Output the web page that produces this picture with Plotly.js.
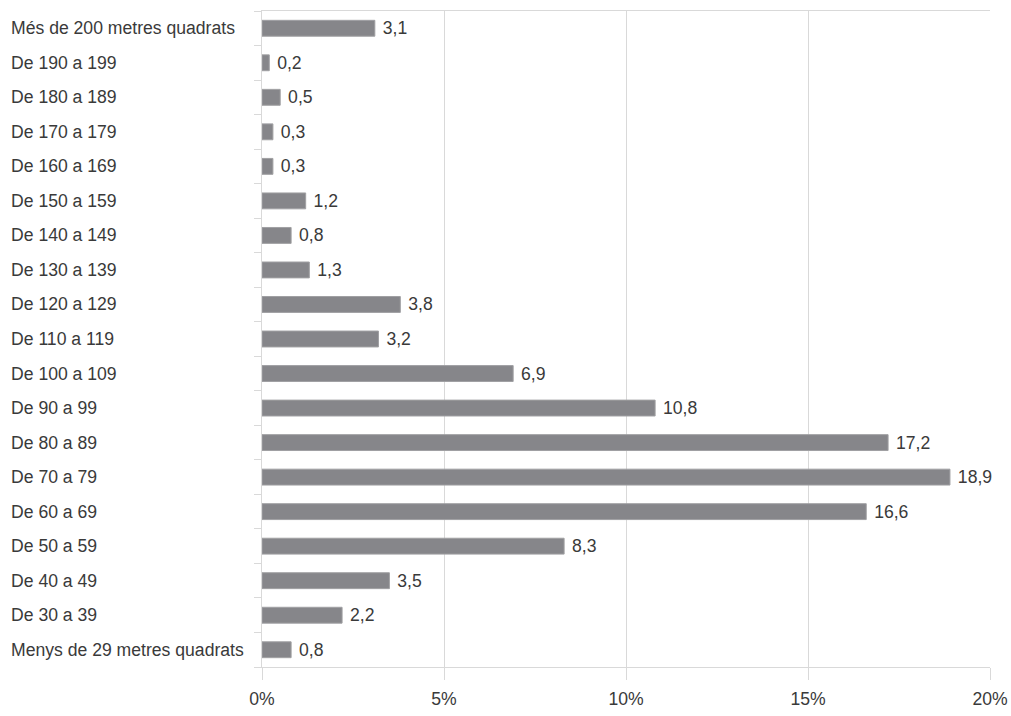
<!DOCTYPE html>
<html>
<head>
<meta charset="utf-8">
<script src="https://cdn.plot.ly/plotly-3.0.1.min.js"></script>
<style>html,body{margin:0;padding:0;background:#fff;}#chart{width:1011px;height:716px;}</style>
</head>
<body>
<div id="chart"></div>
<script>
const categories = [
  "Menys de 29 metres quadrats", "De 30 a 39", "De 40 a 49", "De 50 a 59", "De 60 a 69",
  "De 70 a 79", "De 80 a 89", "De 90 a 99", "De 100 a 109", "De 110 a 119",
  "De 120 a 129", "De 130 a 139", "De 140 a 149", "De 150 a 159", "De 160 a 169",
  "De 170 a 179", "De 180 a 189", "De 190 a 199", "Més de 200 metres quadrats"
];
const values = [0.8, 2.2, 3.5, 8.3, 16.6, 18.9, 17.2, 10.8, 6.9, 3.2, 3.8, 1.3, 0.8, 1.2, 0.3, 0.3, 0.5, 0.2, 3.1];
const xTickVals = [0, 5, 10, 15, 20];
const xTickText = ["0%", "5%", "10%", "15%", "20%"];

const labelText = values.map(v => '\u00a0' + v.toFixed(1).replace('.', ','));
const fontFam = '"Liberation Sans", Arial, Helvetica, sans-serif';
const textColor = '#3a3a3a';
const gridColor = '#d9d9d9';
const fs = 17.6;

const trace = {
  type: 'bar',
  orientation: 'h',
  y: categories,
  x: values,
  text: labelText,
  textposition: 'outside',
  constraintext: 'none',
  cliponaxis: false,
  textfont: {family: fontFam, size: fs, color: textColor},
  marker: {color: '#86868a', line: {color: '#a0a0a3', width: 1}},
  hoverinfo: 'skip'
};

const annotations = categories.map(c => ({
  xref: 'paper', yref: 'y', x: -0.3475, y: c,
  xanchor: 'left', yanchor: 'middle',
  text: c, showarrow: false,
  font: {family: fontFam, size: fs, color: textColor}
}));

const layout = {
  width: 1011, height: 716,
  margin: {l: 262, r: 21, t: 11, b: 49},
  paper_bgcolor: '#fff', plot_bgcolor: '#fff',
  bargap: 0.54,
  showlegend: false,
  font: {family: fontFam, size: fs, color: textColor},
  xaxis: {
    range: [0, 20],
    tickvals: xTickVals,
    ticktext: xTickText,
    showgrid: true, gridcolor: gridColor, gridwidth: 1,
    zeroline: false,
    showline: true, linecolor: gridColor, linewidth: 1, mirror: true,
    ticks: 'outside', ticklen: 12, tickcolor: gridColor, tickwidth: 1,
    ticklabelstandoff: 4,
    tickfont: {family: fontFam, size: fs, color: textColor}
  },
  yaxis: {
    type: 'category',
    categoryorder: 'array', categoryarray: categories,
    showticklabels: false,
    showgrid: false, zeroline: false,
    showline: true, linecolor: gridColor, linewidth: 1,
    ticks: 'outside', tickson: 'boundaries', ticklen: 7, tickcolor: gridColor, tickwidth: 1
  },
  annotations: annotations
};

Plotly.newPlot('chart', [trace], layout, {displayModeBar: false, staticPlot: true});
</script>
</body>
</html>
